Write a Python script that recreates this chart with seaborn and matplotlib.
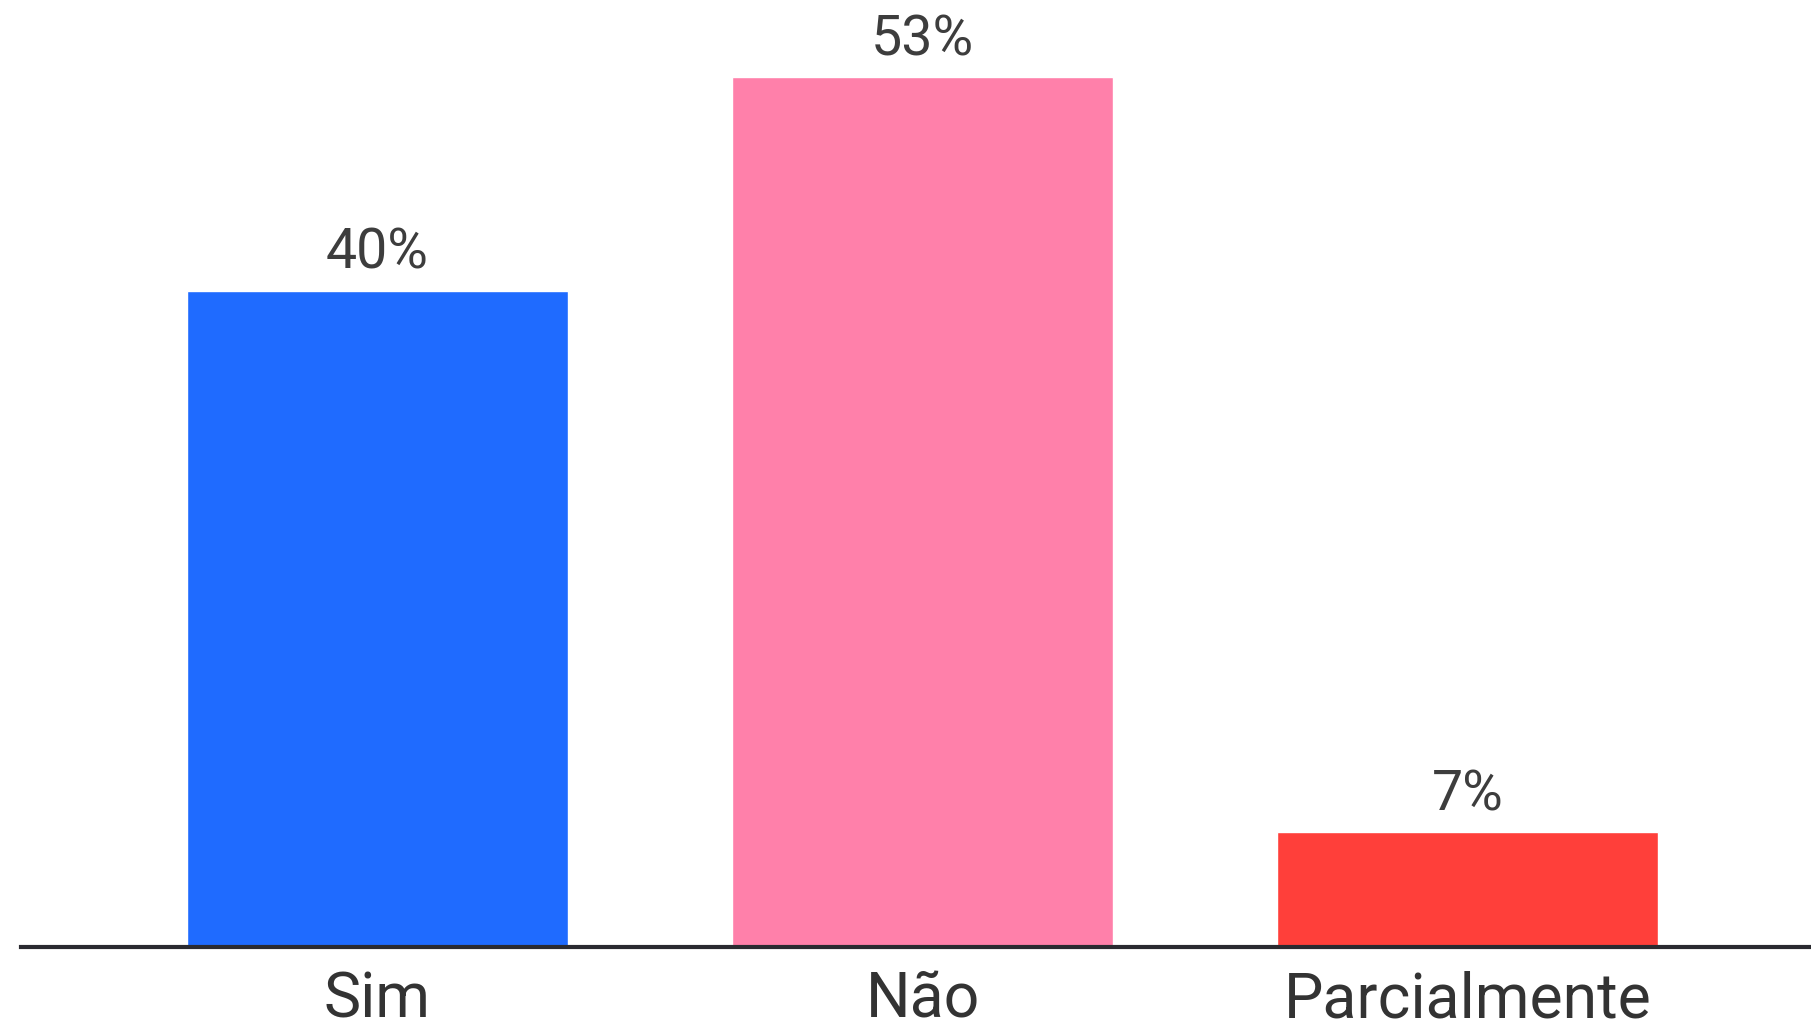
import pandas as pd
import matplotlib
matplotlib.use("Agg")
import matplotlib.pyplot as plt
import seaborn as sns

# Data
categories = ["Sim", "Não", "Parcialmente"]
values = [40, 53, 7]
colors = ["#1F6BFF", "#FF80AA", "#FF3F3A"]

df = pd.DataFrame({"resposta": categories, "pct": values})

sns.set_style("white")
plt.rcParams['font.family'] = ['Roboto', 'DejaVu Sans']

fig = plt.figure(figsize=(18.11, 10.29), dpi=100)
ax = fig.add_axes([21 / 1811, 82 / 1029, 1 - 21 / 1811, 947 / 1029])

sns.barplot(data=df, x="resposta", y="pct", hue="resposta", palette=colors,
            legend=False, width=0.7, saturation=1, ax=ax)

for c in ax.containers:
    ax.bar_label(c, labels=[f"{v:.0f}%" for v in c.datavalues],
                 padding=8, fontsize=40, color="#3d3d3d")

ax.set_xlim(-0.654, 2.63)
ax.set_ylim(0, 57.7)
ax.set_xlabel("")
ax.set_ylabel("")
ax.set_yticks([])
ax.tick_params(axis="x", length=0, pad=17, labelsize=45, labelcolor="#333333")

for s in ["top", "right", "left"]:
    ax.spines[s].set_visible(False)
ax.spines["bottom"].set_color("#2a2a30")
ax.spines["bottom"].set_linewidth(3)

fig.savefig("out.png", dpi=100)
plt.close()
